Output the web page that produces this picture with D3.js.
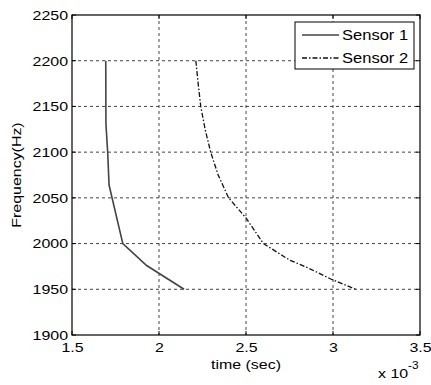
<!DOCTYPE html>
<html>
<head>
<meta charset="utf-8">
<script src="https://cdn.jsdelivr.net/npm/d3@7"></script>
<style>
  body { margin: 0; background: #fff; }
  text { font-family: "Liberation Sans", Arial, Helvetica, sans-serif; fill: #000; }
</style>
</head>
<body>
<div id="chart"></div>
<script>
// values (time in units of 1e-3 s)
const xTicks = [1.5, 2, 2.5, 3, 3.5];
const yTicks = [1900, 1950, 2000, 2050, 2100, 2150, 2200, 2250];
const seriesNames = ["Sensor 1", "Sensor 2"];
const sensor1Time = [1.694, 1.695, 1.705, 1.713, 1.792, 1.929, 2.144];
const sensor1Freq = [2200, 2131, 2100, 2064, 2000, 1976, 1950];
const sensor2Time = [2.212, 2.225, 2.24, 2.265, 2.297, 2.34, 2.40, 2.50, 2.60, 2.75, 2.85, 2.99, 3.13];
const sensor2Freq = [2200, 2175, 2150, 2125, 2100, 2075, 2050, 2028, 2000, 1982, 1974, 1961, 1950];

const W = 431, H = 385;
const margin = {top: 15, right: 11, bottom: 50, left: 72};
const width = W - margin.left - margin.right;   // 348
const height = H - margin.top - margin.bottom;  // 320

const svg = d3.select("#chart").append("svg")
  .attr("width", W).attr("height", H);
const g = svg.append("g").attr("transform", `translate(${margin.left},${margin.top})`);

const x = d3.scaleLinear().domain([1.5, 3.5]).range([0, width]);
const y = d3.scaleLinear().domain([1900, 2250]).range([height, 0]);

// grid
g.append("g").selectAll("line").data(xTicks.slice(1, -1)).enter().append("line")
  .attr("x1", d => x(d)).attr("x2", d => x(d))
  .attr("y1", 0).attr("y2", height)
  .attr("stroke", "#444").attr("stroke-width", 1).attr("stroke-dasharray", "3,3");
g.append("g").selectAll("line").data(yTicks.slice(1, -1)).enter().append("line")
  .attr("y1", d => y(d)).attr("y2", d => y(d))
  .attr("x1", 0).attr("x2", width)
  .attr("stroke", "#444").attr("stroke-width", 1).attr("stroke-dasharray", "3,3");

// axes (labels only, ticks drawn inside box)
const xAxis = g.append("g").attr("transform", `translate(0,${height})`)
  .call(d3.axisBottom(x).tickValues(xTicks).tickSize(0).tickPadding(7).tickFormat(d3.format("")));
const yAxis = g.append("g")
  .call(d3.axisLeft(y).tickValues(yTicks).tickSize(0).tickPadding(4).tickFormat(d3.format("d")));
[xAxis, yAxis].forEach(a => {
  a.select(".domain").remove();
  a.selectAll("text").attr("class", "st").style("font-size", "13.5px").attr("fill", "#000");
});

// inner tick marks
xTicks.forEach(t => {
  g.append("line").attr("x1", x(t)).attr("x2", x(t)).attr("y1", height).attr("y2", height - 4).attr("stroke", "#000");
  g.append("line").attr("x1", x(t)).attr("x2", x(t)).attr("y1", 0).attr("y2", 4).attr("stroke", "#000");
});
yTicks.forEach(t => {
  g.append("line").attr("y1", y(t)).attr("y2", y(t)).attr("x1", 0).attr("x2", 4).attr("stroke", "#000");
  g.append("line").attr("y1", y(t)).attr("y2", y(t)).attr("x1", width).attr("x2", width - 4).attr("stroke", "#000");
});

// lines
const line = d3.line().x(d => x(d[0])).y(d => y(d[1]));
g.append("path")
  .datum(d3.zip(sensor1Time, sensor1Freq))
  .attr("d", line).attr("fill", "none")
  .attr("stroke", "#444").attr("stroke-width", 1.6);
g.append("path")
  .datum(d3.zip(sensor2Time, sensor2Freq))
  .attr("d", line).attr("fill", "none")
  .attr("stroke", "#111").attr("stroke-width", 1.3)
  .attr("stroke-dasharray", "5,2,1.5,2");

// box
g.append("rect").attr("width", width).attr("height", height)
  .attr("fill", "none").attr("stroke", "#000").attr("stroke-width", 1.2);

// legend
const lg = svg.append("g").attr("transform", "translate(295,22)");
lg.append("rect").attr("width", 119).attr("height", 47)
  .attr("fill", "#fff").attr("stroke", "#000").attr("stroke-width", 1);
const styles = [{c: "#444", w: 1.6, dash: null}, {c: "#111", w: 1.3, dash: "5,2,1.5,2"}];
seriesNames.forEach((name, i) => {
  const yy = 13 + i * 23;
  lg.append("line").attr("x1", 7).attr("x2", 44).attr("y1", yy).attr("y2", yy)
    .attr("stroke", styles[i].c).attr("stroke-width", styles[i].w)
    .attr("stroke-dasharray", styles[i].dash);
  lg.append("text").attr("class", "st").attr("x", 47).attr("y", yy + 5)
    .style("font-size", "14px").text(name);
});

// axis labels
svg.append("text").attr("class", "st")
  .attr("x", margin.left + width / 2).attr("y", 369)
  .attr("text-anchor", "middle").style("font-size", "13.5px").text("time (sec)");
svg.append("text").attr("class", "st")
  .attr("transform", `translate(21,${margin.top + height / 2})rotate(-90)`)
  .attr("text-anchor", "middle").style("font-size", "13.5px").text("Frequency(Hz)");

const mult = svg.append("text").attr("class", "st").attr("x", 378).attr("y", 378)
  .style("font-size", "13.5px");
mult.append("tspan").text("x 10");
mult.append("tspan").attr("dy", -9).style("font-size", "10px").text("-3");

// stretch glyphs horizontally like the original rendering
svg.selectAll("text.st").each(function() {
  const len = this.getComputedTextLength();
  d3.select(this).attr("textLength", len * 1.18).attr("lengthAdjust", "spacingAndGlyphs");
});
</script>
</body>
</html>
